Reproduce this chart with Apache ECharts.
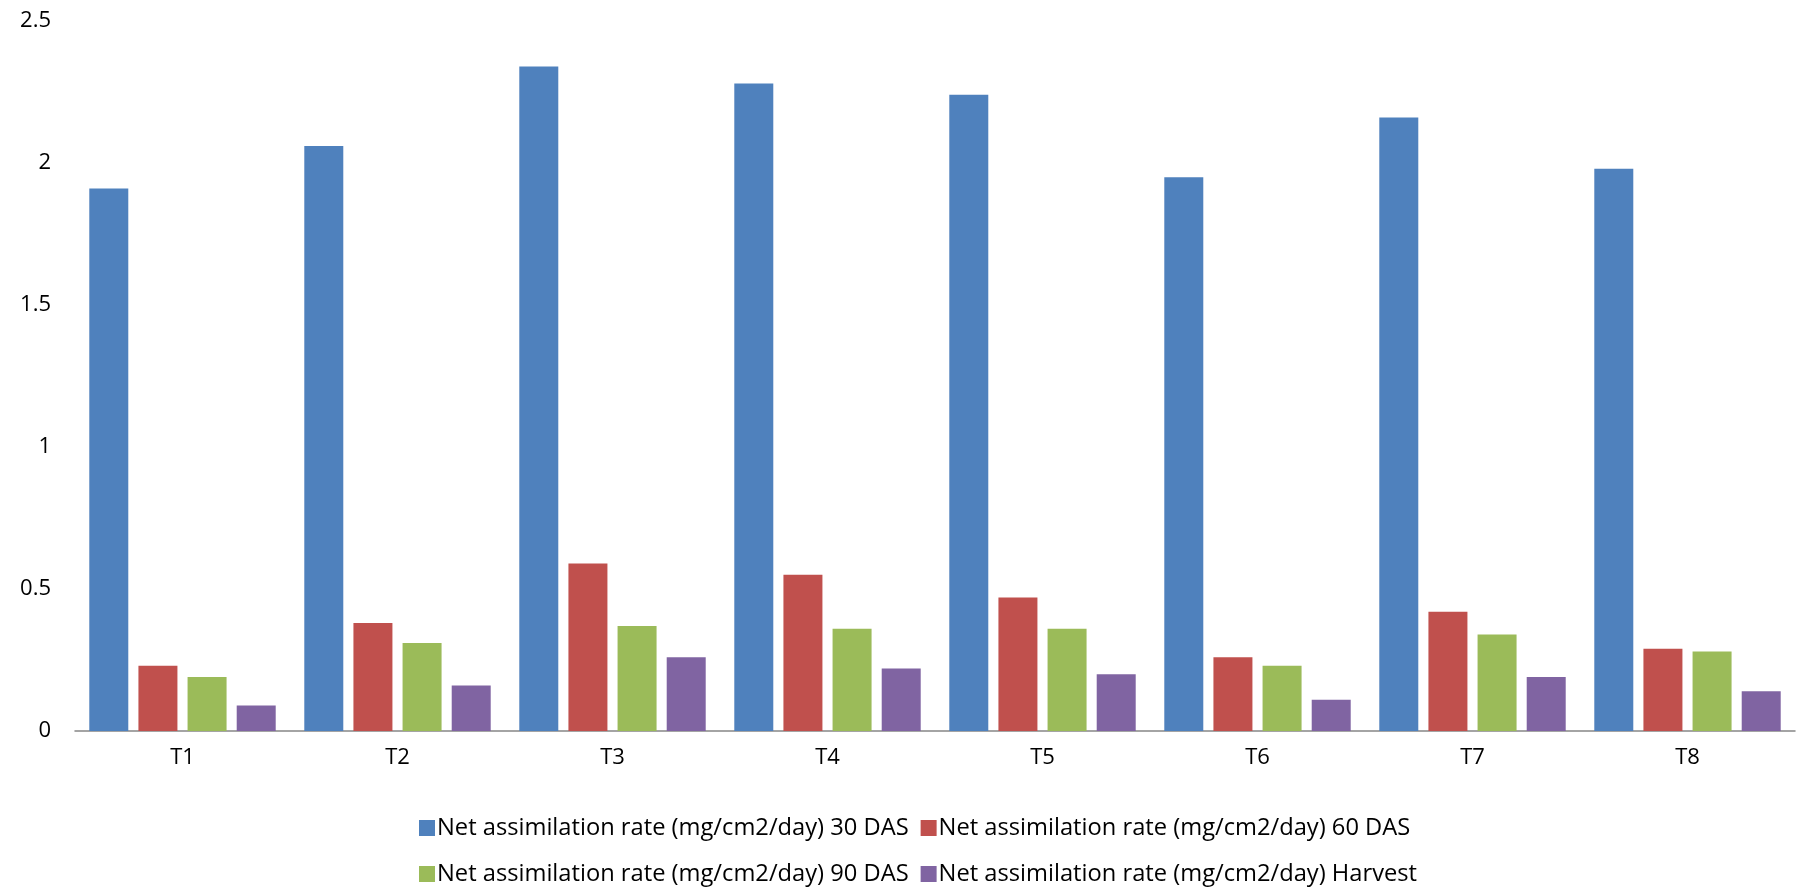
<!DOCTYPE html>
<html><head><meta charset="utf-8">
<script src="https://cdn.jsdelivr.net/npm/echarts@6/dist/echarts.min.js"></script>
<style>html,body{margin:0;padding:0;background:#fff}#c{width:1800px;height:887px}</style>
</head><body><div id="c"></div>
<script>
const categories = ['T1','T2','T3','T4','T5','T6','T7','T8'];
const seriesNames = [
  'Net assimilation rate (mg/cm2/day) 30 DAS',
  'Net assimilation rate (mg/cm2/day) 60 DAS',
  'Net assimilation rate (mg/cm2/day) 90 DAS',
  'Net assimilation rate (mg/cm2/day) Harvest'
];
const das30 = [1.91, 2.06, 2.34, 2.28, 2.24, 1.95, 2.16, 1.98];
const das60 = [0.23, 0.38, 0.59, 0.55, 0.47, 0.26, 0.42, 0.29];
const das90 = [0.19, 0.31, 0.37, 0.36, 0.36, 0.23, 0.34, 0.28];
const harvest = [0.09, 0.16, 0.26, 0.22, 0.20, 0.11, 0.19, 0.14];
const colors = ['#4F81BD', '#C0504D', '#9BBB59', '#8064A2'];
const values = [das30, das60, das90, harvest];

const font = '"Open Sans", sans-serif';
const chart = echarts.init(document.getElementById('c'));
const legendCommon = {
  left: 414, itemWidth: 16, itemHeight: 16, itemGap: 12, icon: 'rect',
  textStyle: { fontFamily: font, fontSize: 23.7, color: '#000', padding: [0, 0, 0, -3] }
};
chart.setOption({
  animation: false,
  color: colors,
  grid: { left: 75, right: 5, top: 21, bottom: 156 },
  legend: [
    Object.assign({ top: 811, data: [seriesNames[0], seriesNames[1]] }, legendCommon),
    Object.assign({ top: 857, data: [seriesNames[2], seriesNames[3]] }, legendCommon)
  ],
  xAxis: {
    type: 'category', data: categories,
    axisLine: { lineStyle: { color: '#868686', width: 1.5 } },
    axisTick: { show: false },
    axisLabel: { color: '#000', fontSize: 22, fontFamily: font, margin: 16 }
  },
  yAxis: {
    type: 'value', min: 0, max: 2.5, interval: 0.5,
    splitLine: { show: false },
    axisLine: { show: false }, axisTick: { show: false },
    axisLabel: { color: '#000', fontSize: 22, fontFamily: font, margin: 24 }
  },
  series: values.map((v, i) => ({
    name: seriesNames[i], type: 'bar', data: v,
    barWidth: 39, barGap: '26%',
    itemStyle: { color: colors[i] }
  }))
});
</script></body></html>
